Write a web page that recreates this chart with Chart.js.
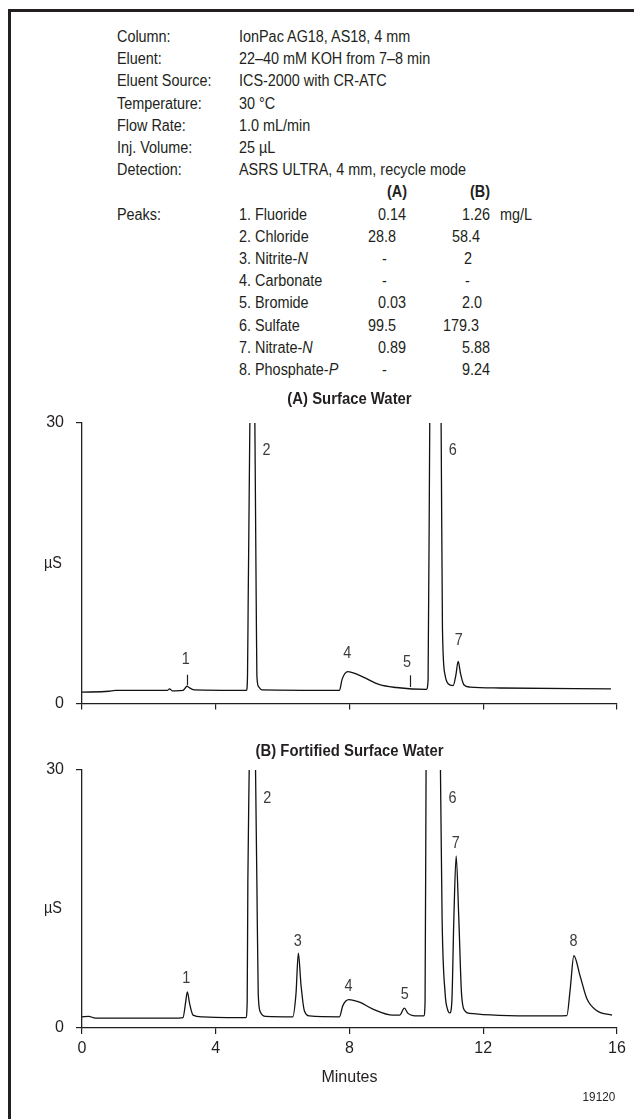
<!DOCTYPE html>
<html>
<head>
<meta charset="utf-8">
<title>IonPac AS18 surface water</title>
<script src="https://cdn.jsdelivr.net/npm/chart.js@4.4.1/dist/chart.umd.min.js"></script>
<style>
  html, body { margin: 0; padding: 0; background: #fff; }
  body { width: 634px; height: 1119px; position: relative; overflow: hidden;
         font-family: "Liberation Sans", Arial, sans-serif; color: #231f20; }
  .frame-top { position: absolute; left: 8px; top: 9px; width: 626px; height: 2.5px; background: #231f20; }
  .frame-left { position: absolute; left: 8px; top: 9px; width: 3px; height: 1110px; background: #231f20; }
  #info span { position: absolute; font-size: 16px; line-height: 22px; white-space: nowrap;
               transform: scaleX(.9); transform-origin: 0 50%; }
  #info b { font-weight: bold; }
  .wrap { position: absolute; left: 0; width: 634px; }
  #code { position: absolute; right: 19px; top: 1089px; font-size: 13px; transform: scaleX(.9); transform-origin: 100% 50%; }
</style>
</head>
<body>
<div class="frame-top"></div>
<div class="frame-left"></div>
<div id="info"></div>

<div class="wrap" style="top:380px;height:345px"><canvas id="chartA" width="634" height="345"></canvas></div>
<div class="wrap" style="top:725px;height:394px"><canvas id="chartB" width="634" height="394"></canvas></div>
<div id="code">19120</div>

<script>
    // ---------------------------
    // Conditions & peak table
    // ---------------------------
    const condLabels = ["Column:", "Eluent:", "Eluent Source:", "Temperature:", "Flow Rate:", "Inj. Volume:", "Detection:"];
    const condValues = ["IonPac AG18, AS18, 4 mm", "22\u201340 mM KOH from 7\u20138 min", "ICS-2000 with CR-ATC",
                        "30 \u00b0C", "1.0 mL/min", "25 \u00b5L", "ASRS ULTRA, 4 mm, recycle mode"];
    const peakNames = ["1. Fluoride", "2. Chloride", "3. Nitrite-<i>N</i>", "4. Carbonate",
                       "5. Bromide", "6. Sulfate", "7. Nitrate-<i>N</i>", "8. Phosphate-<i>P</i>"];
    const concA = ["0.14", "28.8", "-", "-", "0.03", "99.5", "0.89", "-"];
    const concB = ["1.26", "58.4", "2", "-", "2.0", "179.3", "5.88", "9.24"];
    const concAx = [378, 368, 382, 382, 378, 368, 378, 382];
    const concBx = [462, 452, 464, 465, 462, 443, 462, 462];

    // ---------------------------
    // Chromatogram traces (minutes, µS)
    // ---------------------------
    const timeA = [0, 0.8, 1.0, 2.55, 2.62, 2.7, 2.8, 3.02, 3.1, 3.14, 3.2, 3.35,
                   4.92, 4.95, 4.97, 5.02, 5.1, 5.17, 5.21, 5.23, 5.28, 5.38,
                   7.7, 7.78, 7.95, 8.3, 8.9, 9.4, 10.3, 10.35, 10.4, 10.57, 10.74, 10.78,
                   10.86, 10.95, 11.1, 11.18, 11.25, 11.32, 11.42, 11.6, 12.5, 15.82];
    const signalA = [1.2, 1.3, 1.4, 1.4, 1.55, 1.35, 1.35, 1.4, 1.7, 1.85, 1.7, 1.45,
                     1.4, 3, 11, 30, 70, 30, 11, 3, 1.8, 1.45,
                     1.4, 2.6, 3.4, 3.0, 2.0, 1.7, 1.5, 2.5, 30, 80, 30, 8,
                     3, 2.1, 1.9, 3, 4.5, 3.2, 2.0, 1.75, 1.65, 1.55];

    const timeB = [0, 0.2, 0.4, 2.9, 3.02, 3.1, 3.15, 3.22, 3.32, 3.6,
                   4.9, 4.94, 4.96, 5.0, 5.1, 5.19, 5.23, 5.27, 5.33, 5.5,
                   6.3, 6.4, 6.47, 6.55, 6.65, 6.8, 7.7, 7.8, 7.98, 8.3,
                   8.7, 9.3, 9.5, 9.64, 9.75, 9.9, 10.22, 10.26, 10.29, 10.5,
                   10.72, 10.77, 10.86, 10.93, 11.0, 11.06, 11.12, 11.19, 11.27, 11.35,
                   11.45, 11.6, 13.7, 14.5, 14.6, 14.71, 14.9, 15.1, 15.4, 15.85];
    const signalB = [1.3, 1.35, 1.15, 1.15, 1.2, 3.0, 4.2, 2.8, 1.5, 1.3,
                     1.2, 3, 17, 30, 70, 30, 17, 4, 1.9, 1.35,
                     1.3, 4, 8.7, 5, 2, 1.4, 1.3, 2.6, 3.3, 3.0,
                     2.2, 1.5, 1.5, 2.3, 1.7, 1.45, 1.4, 3, 30, 80,
                     30, 12.6, 4, 2.2, 1.75, 3, 12.6, 20, 12.6, 4,
                     2.0, 1.7, 1.4, 1.45, 4.5, 8.4, 6.0, 3.4, 2.0, 1.5];

    // peak numbers (position in minutes / µS)
    const peakIdsA = ["1", "2", "4", "5", "6", "7"];
    const peakTimeA = [3.1, 5.52, 7.93, 9.72, 11.09, 11.27];
    const peakLevelA = [4.66, 27.0, 5.3, 4.35, 27.0, 6.68];
    const markTimeA = [3.15, 9.8];
    const markLowA = [1.95, 1.75];
    const markHighA = [3.07, 3.0];

    const peakIdsB = ["1", "2", "3", "4", "5", "6", "7", "8"];
    const peakTimeB = [3.12, 5.54, 6.45, 7.97, 9.65, 11.08, 11.18, 14.7];
    const peakLevelB = [5.7, 26.7, 10.0, 4.77, 3.84, 26.7, 21.5, 10.0];

    const xTicks = [0, 4, 8, 12, 16];
    const yTicks = [0, 30];

    const ink = "#231f20";
    const labelInk = "#3c3c3c";
    const FAMILY = '"Liberation Sans", Arial, sans-serif';

    // ---------------------------
    // Header text
    // ---------------------------
    function rowTop(i) { return 37 + 22.2 * i - 11; }

    function addSpan(html, left, row) {
      const s = document.createElement("span");
      s.innerHTML = html;
      s.style.left = left + "px";
      s.style.top = rowTop(row) + "px";
      document.getElementById("info").appendChild(s);
    }

    function renderInfo() {
      condLabels.forEach((l, i) => { addSpan(l, 117, i); addSpan(condValues[i], 239, i); });
      addSpan("<b>(A)</b>", 387, 7);
      addSpan("<b>(B)</b>", 470, 7);
      addSpan("Peaks:", 117, 8);
      peakNames.forEach((p, i) => {
        addSpan(p, 239, 8 + i);
        addSpan(concA[i], concAx[i], 8 + i);
        addSpan(concB[i], concBx[i], 8 + i);
      });
      addSpan("mg/L", 500, 8);
    }

    // ---------------------------
    // Chart drawing
    // ---------------------------
    function condText(ctx, text, cx, cy, font, sx, color) {
      ctx.save();
      ctx.translate(cx, cy);
      ctx.scale(sx, 1);
      ctx.font = font;
      ctx.fillStyle = color;
      ctx.textAlign = "center";
      ctx.textBaseline = "middle";
      ctx.fillText(text, 0, 0);
      ctx.restore();
    }

    const peakText = {
      id: "peakText",
      afterDraw(chart, args, o) {
        const { ctx, chartArea, scales: { x, y } } = chart;
        condText(ctx, o.title, (chartArea.left + chartArea.right) / 2, chartArea.top - o.titleGap,
                 "bold 16px " + FAMILY, 0.93, ink);
        condText(ctx, "\u00b5S", 53, y.getPixelForValue(o.unitAt), "16px " + FAMILY, 0.9, ink);
        o.ids.forEach((id, i) => {
          condText(ctx, id, x.getPixelForValue(o.times[i]), y.getPixelForValue(o.levels[i]),
                   "16px " + FAMILY, 0.9, labelInk);
        });
        ctx.save();
        ctx.strokeStyle = ink;
        ctx.lineWidth = 1.2;
        (o.marks || []).forEach((t, i) => {
          const px = Math.round(x.getPixelForValue(t)) + 0.5;
          ctx.beginPath();
          ctx.moveTo(px, y.getPixelForValue(o.markLow[i]));
          ctx.lineTo(px, y.getPixelForValue(o.markHigh[i]));
          ctx.stroke();
        });
        ctx.restore();
      }
    };

    function makeChart(id, times, values, cfg) {
      return new Chart(document.getElementById(id), {
        type: "line",
        data: {
          datasets: [{
            data: times.map((t, i) => ({ x: t, y: values[i] })),
            borderColor: "#111",
            borderWidth: 1.3,
            pointRadius: 0,
            cubicInterpolationMode: "monotone",
            fill: false
          }]
        },
        options: {
          responsive: false,
          animation: false,
          events: [],
          layout: { padding: { top: cfg.padTop, right: 17, bottom: cfg.padBottom, left: 0 } },
          plugins: {
            legend: { display: false },
            tooltip: { enabled: false },
            peakText: cfg.text
          },
          scales: {
            x: {
              type: "linear", min: 0, max: 16,
              afterBuildTicks: s => { s.ticks = xTicks.map(v => ({ value: v })); },
              ticks: { display: cfg.showX, padding: 5, maxRotation: 0, color: ink,
                       font: { size: 16, family: FAMILY } },
              grid: { drawOnChartArea: false, tickLength: 6, color: ink, lineWidth: 1.2 },
              border: { color: ink, width: 1.3 },
              title: { display: cfg.showX, text: "Minutes", color: ink, padding: 0,
                       font: { size: 16, family: FAMILY } },
              afterFit: s => { s.height = cfg.xHeight; }
            },
            y: {
              min: 0, max: 30,
              afterBuildTicks: s => { s.ticks = yTicks.map(v => ({ value: v })); },
              ticks: { padding: 12, color: ink, font: { size: 16, family: FAMILY } },
              grid: { drawOnChartArea: false, tickLength: 6, color: ink, lineWidth: 1.2 },
              border: { color: ink, width: 1.3 },
              afterFit: s => { s.width = 82; }
            }
          }
        },
        plugins: [peakText]
      });
    }

    renderInfo();

    makeChart("chartA", timeA, signalA, {
      padTop: 43, padBottom: 13, xHeight: 6, showX: false,
      text: { title: "(A) Surface Water", titleGap: 23, unitAt: 15,
              ids: peakIdsA, times: peakTimeA, levels: peakLevelA,
              marks: markTimeA, markLow: markLowA, markHigh: markHighA }
    });

    makeChart("chartB", timeB, signalB, {
      padTop: 45, padBottom: 31.4, xHeight: 59.6, showX: true,
      text: { title: "(B) Fortified Surface Water", titleGap: 18, unitAt: 13.9,
              ids: peakIdsB, times: peakTimeB, levels: peakLevelB }
    });
</script>
</body>
</html>
